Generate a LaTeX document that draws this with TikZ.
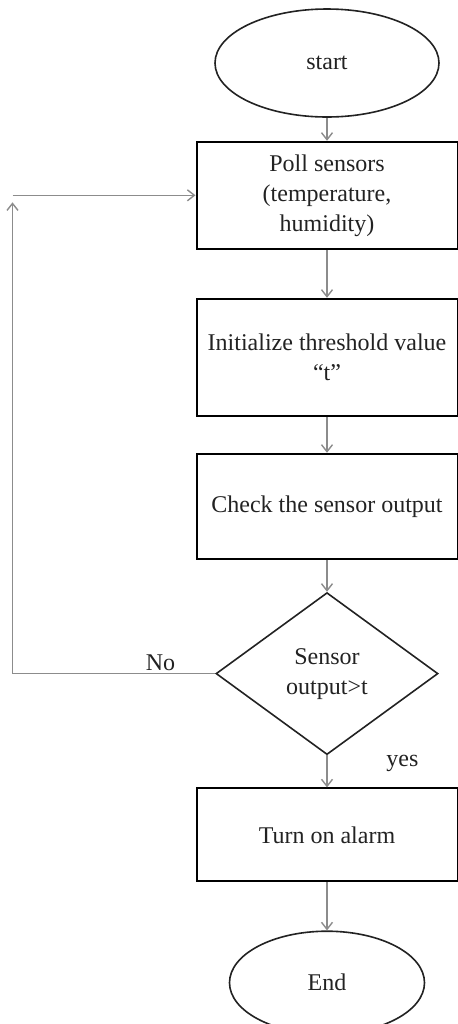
\documentclass[tikz,border=0pt]{standalone}
\usepackage{fontspec}
\setmainfont{Liberation Serif}
\usepackage{tikz}
\usetikzlibrary{positioning, arrows.meta, shapes.geometric}
\definecolor{linegray}{HTML}{8C8C8C}
\definecolor{ink}{HTML}{222222}

\begin{document}
\begin{tikzpicture}[->,>={Straight Barb[length=3.5pt,width=5.5pt]},
  every node/.style={font=\fontsize{12}{15}\selectfont,text=ink},
  term/.style={ellipse,draw=ink,line width=0.8pt,inner sep=0pt},
  proc/.style={rectangle,draw=black,line width=1pt,minimum width=130.5pt,
               align=center,inner sep=2pt},
  test/.style={diamond,aspect=1.37,draw=ink,line width=0.8pt,minimum width=111pt,
               minimum height=81pt,inner sep=0pt,align=center},
  flow/.style={draw=linegray,line width=0.7pt}]
  \useasboundingbox (0,0) rectangle (229pt,-512pt);
  \node[term,minimum width=112pt,minimum height=54pt] (start) at (163.5pt,-31.5pt) {start};
  \node[proc,minimum height=53.5pt,below=11.5pt of start] (poll)
       {Poll sensors\\(temperature,\\humidity)};
  \node[proc,minimum height=58.5pt,below=24pt of poll] (init)
       {Initialize threshold value\\“t”};
  \node[proc,minimum height=52.5pt,below=18pt of init] (check) {Check the sensor output};
  \node[test,below=16pt of check] (dec) {Sensor\\output>t};
  \node[proc,minimum height=46.5pt,below=16pt of dec] (alarm) {Turn on alarm};
  \node[term,minimum width=97.5pt,minimum height=51.5pt,below=24pt of alarm] (end) {End};
  \coordinate[left=91.5pt of poll.west] (back);
  \path (start) edge[flow] (poll)
        (poll) edge[flow] (init)
        (init) edge[flow] (check)
        (check) edge[flow] (dec)
        (dec) edge[flow] node[pos=0.25,right=26pt]{yes} (alarm)
        (alarm) edge[flow] (end);
  % no: back to polling
  \draw[flow] (dec.west) -- node[pos=0.27,above,inner sep=1pt]{No} (dec.west -| back)
        -- ([yshift=-3.5pt]back);
  \draw[flow] (back) -- (poll.west);
\end{tikzpicture}
\end{document}
